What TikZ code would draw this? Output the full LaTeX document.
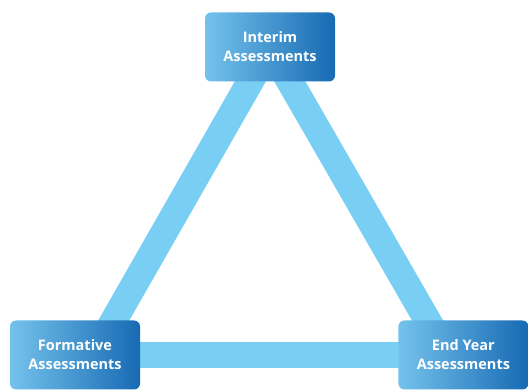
\documentclass[tikz,border=0pt]{standalone}
\usepackage{fontspec}
\setmainfont{Open Sans}
\usetikzlibrary{positioning,backgrounds}
\definecolor{barblue}{HTML}{79CEF4}
\definecolor{boxlight}{HTML}{74C2EC}
\definecolor{boxdark}{HTML}{176AB3}

\tikzset{
  box/.style={rectangle, rounded corners=6pt, minimum width=130pt, minimum height=69pt,
    left color=boxlight, right color=boxdark, text=white, align=center,
    font=\fontsize{14.5}{19}\selectfont\bfseries, inner sep=0pt},
  bar/.style={line width=27pt, barblue}
}

\begin{document}
\begin{tikzpicture}[x=1pt, y=1pt]
        \useasboundingbox (0,0) rectangle (529,390);
        % Nodes
        \node [box] (F) at (75,35) {Formative\\Assessments};
        \node [box, right=258pt of F] (E) {End Year\\Assessments};
        \node [box] (I) at (270,343) {Interim\\Assessments};

        % Bars behind the boxes
        \begin{pgfonlayer}{background}
        \draw[bar] (I.center) -- ([xshift=19pt]F.center);
        \draw[bar] (I.center) -- ([xshift=-16pt]E.center);
        \draw[bar, line width=26pt] (F.center) -- (E.center);
        \end{pgfonlayer}
\end{tikzpicture}
\end{document}
